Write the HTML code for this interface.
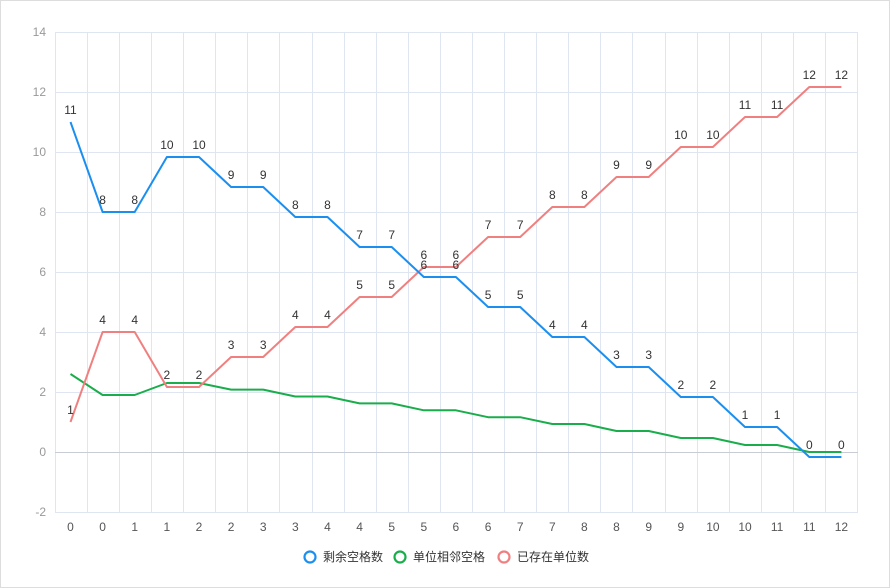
<!DOCTYPE html>
<html><head><meta charset="utf-8"><style>
body{margin:0;background:#fff;}
svg{display:block;font-family:"Liberation Sans","Noto Sans CJK SC",sans-serif;}
</style></head><body>
<svg width="890" height="588" xmlns="http://www.w3.org/2000/svg">
<rect x="0.5" y="0.5" width="889" height="587" fill="#fff" stroke="#ddd"/>
<g stroke="#e0e6f1" stroke-width="1">
<line x1="55" y1="32.5" x2="858" y2="32.5"/><line x1="55" y1="92.5" x2="858" y2="92.5"/><line x1="55" y1="152.5" x2="858" y2="152.5"/><line x1="55" y1="212.5" x2="858" y2="212.5"/><line x1="55" y1="272.5" x2="858" y2="272.5"/><line x1="55" y1="332.5" x2="858" y2="332.5"/><line x1="55" y1="392.5" x2="858" y2="392.5"/><line x1="55" y1="512.5" x2="858" y2="512.5"/>
<line x1="55.5" y1="32" x2="55.5" y2="512"/><line x1="87.5" y1="32" x2="87.5" y2="512"/><line x1="119.5" y1="32" x2="119.5" y2="512"/><line x1="151.5" y1="32" x2="151.5" y2="512"/><line x1="183.5" y1="32" x2="183.5" y2="512"/><line x1="215.5" y1="32" x2="215.5" y2="512"/><line x1="247.5" y1="32" x2="247.5" y2="512"/><line x1="279.5" y1="32" x2="279.5" y2="512"/><line x1="312.5" y1="32" x2="312.5" y2="512"/><line x1="344.5" y1="32" x2="344.5" y2="512"/><line x1="376.5" y1="32" x2="376.5" y2="512"/><line x1="408.5" y1="32" x2="408.5" y2="512"/><line x1="440.5" y1="32" x2="440.5" y2="512"/><line x1="472.5" y1="32" x2="472.5" y2="512"/><line x1="504.5" y1="32" x2="504.5" y2="512"/><line x1="536.5" y1="32" x2="536.5" y2="512"/><line x1="568.5" y1="32" x2="568.5" y2="512"/><line x1="600.5" y1="32" x2="600.5" y2="512"/><line x1="632.5" y1="32" x2="632.5" y2="512"/><line x1="665.5" y1="32" x2="665.5" y2="512"/><line x1="697.5" y1="32" x2="697.5" y2="512"/><line x1="729.5" y1="32" x2="729.5" y2="512"/><line x1="761.5" y1="32" x2="761.5" y2="512"/><line x1="793.5" y1="32" x2="793.5" y2="512"/><line x1="825.5" y1="32" x2="825.5" y2="512"/><line x1="857.5" y1="32" x2="857.5" y2="512"/>
</g>
<line x1="55" y1="452.5" x2="858" y2="452.5" stroke="#c8ccd4"/>
<g fill="#999" font-size="12" text-anchor="end">
<text x="46" y="36">14</text><text x="46" y="96">12</text><text x="46" y="156">10</text><text x="46" y="216">8</text><text x="46" y="276">6</text><text x="46" y="336">4</text><text x="46" y="396">2</text><text x="46" y="456">0</text><text x="46" y="516">-2</text>
</g>
<g fill="#555" font-size="12" text-anchor="middle">
<text x="70.5" y="531">0</text><text x="102.6" y="531">0</text><text x="134.7" y="531">1</text><text x="166.9" y="531">1</text><text x="199" y="531">2</text><text x="231.1" y="531">2</text><text x="263.2" y="531">3</text><text x="295.3" y="531">3</text><text x="327.5" y="531">4</text><text x="359.6" y="531">4</text><text x="391.7" y="531">5</text><text x="423.8" y="531">5</text><text x="455.9" y="531">6</text><text x="488.1" y="531">6</text><text x="520.2" y="531">7</text><text x="552.3" y="531">7</text><text x="584.4" y="531">8</text><text x="616.5" y="531">8</text><text x="648.7" y="531">9</text><text x="680.8" y="531">9</text><text x="712.9" y="531">10</text><text x="745" y="531">10</text><text x="777.1" y="531">11</text><text x="809.3" y="531">11</text><text x="841.4" y="531">12</text>
</g>
<g fill="none" stroke-width="2" stroke-linejoin="round">
<polyline stroke="#1aad4b" points="70.5,374 102.6,395 134.7,395 166.9,383 199,383 231.1,389.6 263.2,389.6 295.3,396.5 327.5,396.5 359.6,403.4 391.7,403.4 423.8,410.3 455.9,410.3 488.1,417.2 520.2,417.2 552.3,424 584.4,424 616.5,431 648.7,431 680.8,438 712.9,438 745,445 777.1,445 809.3,452 841.4,452"/>
<polyline stroke="#f08080" points="70.5,422 102.6,332 134.7,332 166.9,387 199,387 231.1,357 263.2,357 295.3,327 327.5,327 359.6,297 391.7,297 423.8,267 455.9,267 488.1,237 520.2,237 552.3,207 584.4,207 616.5,177 648.7,177 680.8,147 712.9,147 745,117 777.1,117 809.3,87 841.4,87"/>
<polyline stroke="#1b8ff0" points="70.5,122 102.6,212 134.7,212 166.9,157 199,157 231.1,187 263.2,187 295.3,217 327.5,217 359.6,247 391.7,247 423.8,277 455.9,277 488.1,307 520.2,307 552.3,337 584.4,337 616.5,367 648.7,367 680.8,397 712.9,397 745,427 777.1,427 809.3,457 841.4,457"/>
</g>
<g fill="#333" font-size="12" text-anchor="middle">
<text x="70.5" y="114">11</text><text x="102.6" y="204">8</text><text x="134.7" y="204">8</text><text x="166.9" y="149">10</text><text x="199" y="149">10</text><text x="231.1" y="179">9</text><text x="263.2" y="179">9</text><text x="295.3" y="209">8</text><text x="327.5" y="209">8</text><text x="359.6" y="239">7</text><text x="391.7" y="239">7</text><text x="423.8" y="269">6</text><text x="455.9" y="269">6</text><text x="488.1" y="299">5</text><text x="520.2" y="299">5</text><text x="552.3" y="329">4</text><text x="584.4" y="329">4</text><text x="616.5" y="359">3</text><text x="648.7" y="359">3</text><text x="680.8" y="389">2</text><text x="712.9" y="389">2</text><text x="745" y="419">1</text><text x="777.1" y="419">1</text><text x="809.3" y="449">0</text><text x="841.4" y="449">0</text>
<text x="70.5" y="414">1</text><text x="102.6" y="324">4</text><text x="134.7" y="324">4</text><text x="166.9" y="379">2</text><text x="199" y="379">2</text><text x="231.1" y="349">3</text><text x="263.2" y="349">3</text><text x="295.3" y="319">4</text><text x="327.5" y="319">4</text><text x="359.6" y="289">5</text><text x="391.7" y="289">5</text><text x="423.8" y="259">6</text><text x="455.9" y="259">6</text><text x="488.1" y="229">7</text><text x="520.2" y="229">7</text><text x="552.3" y="199">8</text><text x="584.4" y="199">8</text><text x="616.5" y="169">9</text><text x="648.7" y="169">9</text><text x="680.8" y="139">10</text><text x="712.9" y="139">10</text><text x="745" y="109">11</text><text x="777.1" y="109">11</text><text x="809.3" y="79">12</text><text x="841.4" y="79">12</text>
</g>
<g font-size="12" fill="#333">
<circle cx="310" cy="557" r="5.5" fill="none" stroke="#1b8ff0" stroke-width="2.2"/>
<text x="323" y="561">剩余空格数</text>
<circle cx="400" cy="557" r="5.5" fill="none" stroke="#1aad4b" stroke-width="2.2"/>
<text x="413" y="561">单位相邻空格</text>
<circle cx="504" cy="557" r="5.5" fill="none" stroke="#f08080" stroke-width="2.2"/>
<text x="517" y="561">已存在单位数</text>
</g>
</svg>
</body></html>
